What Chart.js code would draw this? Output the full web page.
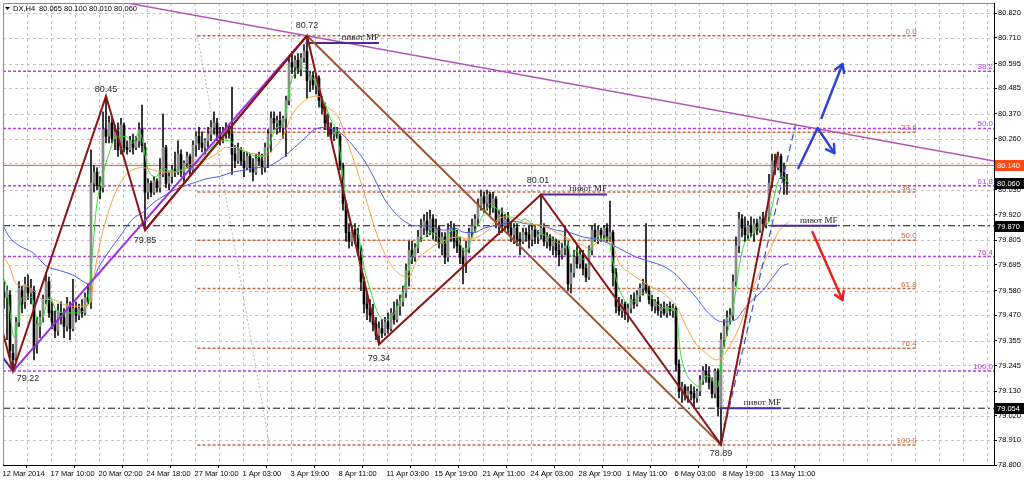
<!DOCTYPE html>
<html>
<head>
<meta charset="utf-8">
<title>DX,H4</title>
<script src="https://cdn.jsdelivr.net/npm/chart.js@4.4.1/dist/chart.umd.min.js"></script>
<style>
  html, body { margin: 0; padding: 0; background: #ffffff; overflow: hidden; }
  canvas { display: block; }
</style>
</head>
<body>
<canvas id="chart" width="1024" height="482"></canvas>
<script>
// ---------- H4 candles, US Dollar Index (DX) ----------
const opens = [
  79.57,79.55,79.56,79.30,79.28,79.44,79.58,79.53,79.60,79.57,
  79.58,79.34,79.42,79.46,79.54,79.62,79.49,79.44,79.40,79.48,
  79.46,79.42,79.51,79.41,79.50,79.47,79.50,79.48,79.55,79.53,
  80.06,80.11,80.05,80.04,80.30,80.27,80.33,80.26,80.29,80.21,
  80.32,80.22,80.21,80.25,80.22,80.25,80.30,80.22,80.02,80.06,
  80.02,80.07,80.04,80.10,80.22,80.06,80.09,80.12,80.11,80.19,
  80.11,80.15,80.18,80.12,80.23,80.27,80.24,80.22,80.25,80.28,
  80.31,80.33,80.28,80.26,80.29,80.31,80.28,80.19,80.16,80.21,
  80.16,80.13,80.18,80.13,80.11,80.17,80.16,80.13,80.22,80.28,
  80.35,80.33,80.34,80.31,80.35,80.43,80.60,80.58,80.61,80.57,
  80.62,80.65,80.52,80.54,80.50,80.53,80.43,80.40,80.33,80.30,
  80.28,80.29,80.27,80.14,79.97,79.84,79.80,79.85,79.83,79.77,
  79.62,79.52,79.50,79.47,79.43,79.38,79.41,79.39,79.44,79.41,
  79.48,79.45,79.51,79.53,79.57,79.67,79.76,79.73,79.77,79.82,
  79.86,79.89,79.85,79.90,79.84,79.86,79.79,79.82,79.73,79.85,
  79.86,79.80,79.78,79.73,79.70,79.77,79.84,79.87,79.90,79.96,
  80.00,79.97,80.01,79.95,79.99,79.89,79.92,79.87,79.90,79.86,
  79.83,79.86,79.81,79.80,79.84,79.83,79.81,79.85,79.82,79.83,
  79.86,79.80,79.82,79.78,79.80,79.76,79.74,79.77,79.78,79.61,
  79.66,79.73,79.70,79.74,79.68,79.64,79.76,79.85,79.82,79.85,
  79.83,79.86,79.82,79.84,79.66,79.51,79.49,79.52,79.48,79.50,
  79.54,79.52,79.56,79.59,79.61,79.58,79.54,79.51,79.53,79.49,
  79.50,79.48,79.51,79.49,79.50,79.25,79.13,79.15,79.11,79.13,
  79.12,79.10,79.13,79.18,79.22,79.20,79.17,79.12,79.22,79.06,
  79.36,79.42,79.46,79.47,79.62,79.78,79.90,79.86,79.83,79.87,
  79.84,79.88,79.85,79.90,79.88,79.91,80.06,80.16,80.13,80.18,
  80.11,80.065
];
const highs = [
  79.62,79.60,79.58,79.34,79.46,79.62,79.60,79.64,79.65,79.63,
  79.60,79.46,79.49,79.56,79.66,79.64,79.53,79.49,79.52,79.53,
  79.50,79.55,79.53,79.63,79.53,79.52,79.54,79.57,79.61,80.21,
  80.14,80.13,80.09,80.38,80.45,80.36,80.35,80.32,80.33,80.35,
  80.33,80.25,80.27,80.28,80.27,80.33,80.41,80.24,80.08,80.07,
  80.09,80.08,80.17,80.37,80.23,80.11,80.14,80.20,80.25,80.21,
  80.16,80.20,80.19,80.25,80.29,80.31,80.29,80.26,80.31,80.34,
  80.38,80.35,80.31,80.31,80.33,80.32,80.49,80.23,80.24,80.22,
  80.20,80.20,80.19,80.17,80.19,80.20,80.19,80.24,80.30,80.38,
  80.38,80.36,80.38,80.36,80.45,80.63,80.65,80.63,80.64,80.64,
  80.68,80.72,80.56,80.56,80.55,80.54,80.45,80.42,80.37,80.33,
  80.31,80.31,80.28,80.15,79.98,79.88,79.87,79.88,79.86,79.78,
  79.64,79.57,79.54,79.52,79.46,79.44,79.45,79.46,79.48,79.50,
  79.53,79.54,79.56,79.60,79.70,79.80,79.80,79.79,79.85,79.90,
  79.92,79.93,79.94,79.92,79.90,79.87,79.84,79.84,79.88,79.89,
  79.88,79.85,79.82,79.77,79.80,79.86,79.90,79.92,79.99,80.03,
  80.02,80.03,80.02,80.02,80.00,79.94,79.95,79.92,79.93,79.89,
  79.88,79.88,79.84,79.86,79.86,79.87,79.88,79.87,79.85,80.01,
  79.88,79.84,79.83,79.82,79.81,79.80,79.79,79.87,79.80,79.70,
  79.76,79.78,79.76,79.76,79.70,79.78,79.87,79.88,79.87,79.86,
  79.87,79.88,79.98,79.85,79.68,79.55,79.54,79.53,79.52,79.56,
  79.57,79.58,79.61,79.63,79.88,79.60,79.56,79.54,79.55,79.52,
  79.53,79.52,79.53,79.52,79.51,79.27,79.17,79.16,79.15,79.16,
  79.15,79.14,79.20,79.24,79.25,79.24,79.19,79.23,79.23,79.39,
  79.45,79.49,79.50,79.65,79.82,79.93,79.92,79.91,79.89,79.91,
  79.90,79.90,79.91,79.93,79.92,80.10,80.19,80.19,80.20,80.19,
  80.15,80.10
];
const lows = [
  79.50,79.36,79.28,79.22,79.26,79.42,79.48,79.50,79.54,79.52,
  79.27,79.30,79.37,79.44,79.52,79.46,79.41,79.37,79.38,79.43,
  79.37,79.40,79.36,79.40,79.44,79.45,79.46,79.47,79.52,79.50,
  80.02,80.03,79.99,80.02,80.24,80.24,80.24,80.21,80.18,80.19,
  80.20,80.19,80.20,80.19,80.21,80.22,80.20,79.85,79.99,80.00,
  80.01,80.02,80.02,80.09,80.04,80.03,80.06,80.09,80.10,80.09,
  80.06,80.13,80.10,80.11,80.18,80.21,80.20,80.19,80.22,80.25,
  80.28,80.25,80.23,80.24,80.26,80.26,80.10,80.13,80.15,80.14,
  80.09,80.12,80.11,80.07,80.10,80.14,80.10,80.11,80.13,80.20,
  80.30,80.28,80.29,80.26,80.18,80.41,80.55,80.53,80.55,80.54,
  80.60,80.44,80.47,80.48,80.46,80.40,80.37,80.30,80.27,80.26,
  80.25,80.26,80.12,79.94,79.80,79.77,79.78,79.79,79.74,79.58,
  79.48,79.45,79.44,79.40,79.36,79.34,79.37,79.38,79.39,79.40,
  79.43,79.44,79.47,79.51,79.55,79.60,79.70,79.71,79.75,79.80,
  79.83,79.82,79.83,79.81,79.80,79.77,79.74,79.70,79.71,79.80,
  79.77,79.75,79.70,79.61,79.66,79.75,79.82,79.84,79.87,79.94,
  79.93,79.94,79.92,79.93,79.86,79.83,79.84,79.85,79.83,79.80,
  79.79,79.78,79.74,79.79,79.80,79.77,79.78,79.79,79.79,79.81,
  79.78,79.77,79.76,79.74,79.73,79.69,79.72,79.74,79.58,79.57,
  79.64,79.68,79.68,79.65,79.62,79.63,79.74,79.80,79.79,79.80,
  79.81,79.80,79.80,79.60,79.48,79.47,79.46,79.45,79.44,79.48,
  79.50,79.51,79.53,79.56,79.57,79.52,79.49,79.48,79.47,79.46,
  79.47,79.46,79.47,79.46,79.22,79.10,79.08,79.09,79.08,79.09,
  79.06,79.08,79.11,79.16,79.17,79.14,79.10,79.10,79.02,78.89,
  79.33,79.38,79.43,79.45,79.60,79.75,79.82,79.80,79.81,79.82,
  79.80,79.83,79.84,79.85,79.86,79.89,80.04,80.10,80.12,80.08,
  80.01,80.01
];
const closes = [
  79.55,79.58,79.31,79.27,79.44,79.59,79.52,79.61,79.57,79.59,
  79.32,79.43,79.46,79.54,79.62,79.48,79.44,79.40,79.49,79.46,
  79.42,79.52,79.41,79.50,79.47,79.50,79.48,79.55,79.53,80.06,
  80.11,80.05,80.03,80.30,80.27,80.33,80.26,80.29,80.21,80.32,
  80.22,80.21,80.25,80.22,80.25,80.30,80.23,80.02,80.06,80.02,
  80.07,80.04,80.10,80.22,80.06,80.09,80.12,80.11,80.19,80.11,
  80.15,80.18,80.12,80.23,80.27,80.24,80.22,80.25,80.28,80.31,
  80.33,80.28,80.26,80.29,80.31,80.28,80.19,80.16,80.21,80.16,
  80.13,80.18,80.13,80.11,80.17,80.16,80.13,80.22,80.28,80.35,
  80.33,80.34,80.31,80.35,80.43,80.60,80.58,80.61,80.57,80.62,
  80.65,80.52,80.54,80.50,80.53,80.43,80.40,80.33,80.30,80.28,
  80.29,80.27,80.14,79.97,79.84,79.80,79.85,79.83,79.77,79.62,
  79.52,79.50,79.47,79.43,79.38,79.41,79.39,79.44,79.41,79.48,
  79.45,79.51,79.53,79.57,79.67,79.76,79.73,79.77,79.82,79.86,
  79.89,79.85,79.90,79.84,79.86,79.79,79.82,79.73,79.85,79.86,
  79.80,79.78,79.73,79.70,79.77,79.84,79.87,79.90,79.96,80.00,
  79.97,80.01,79.95,79.99,79.89,79.92,79.87,79.90,79.86,79.83,
  79.86,79.81,79.80,79.84,79.83,79.81,79.85,79.82,79.83,79.86,
  79.80,79.82,79.78,79.80,79.76,79.74,79.77,79.78,79.61,79.66,
  79.73,79.70,79.74,79.68,79.64,79.76,79.85,79.82,79.85,79.83,
  79.86,79.82,79.84,79.66,79.51,79.49,79.52,79.48,79.50,79.54,
  79.52,79.56,79.59,79.61,79.58,79.54,79.51,79.53,79.49,79.50,
  79.48,79.51,79.49,79.50,79.25,79.13,79.15,79.11,79.13,79.12,
  79.10,79.13,79.18,79.22,79.20,79.17,79.12,79.22,79.06,79.36,
  79.42,79.46,79.47,79.62,79.78,79.90,79.86,79.83,79.87,79.84,
  79.88,79.85,79.90,79.88,79.91,80.06,80.16,80.13,80.18,80.11,
  80.07,80.06
];

// time axis: one label every 16 bars
const timeLabels = ["12 Mar 2014","17 Mar 10:00","20 Mar 02:00","24 Mar 18:00","27 Mar 10:00",
  "1 Apr 03:00","3 Apr 19:00","8 Apr 11:00","11 Apr 03:00","15 Apr 19:00","21 Apr 11:00",
  "24 Apr 03:00","28 Apr 19:00","1 May 11:00","6 May 03:00","8 May 19:00","13 May 11:00"];
const priceTicks = [80.820,80.710,80.595,80.485,80.370,80.260,80.150,80.030,79.920,79.805,
  79.695,79.580,79.470,79.355,79.245,79.130,79.020,78.910,78.800];

// moving averages as [bar, price]
const maFast = [[-0.3,79.64],[0.8,79.60],[3.5,79.37],[6.2,79.55],[9.2,79.55],[11.8,79.42],[15.2,79.55],
  [17.5,79.49],[20.8,79.48],[24.2,79.48],[27.8,79.52],[29.5,79.75],[30.8,79.95],[32.8,80.09],[35.2,80.20],
  [37.5,80.27],[40.8,80.27],[42.8,80.24],[45.2,80.29],[46.2,80.25],[47.8,80.13],[50.8,80.09],[52.8,80.13],
  [56.2,80.11],[59.2,80.12],[61.8,80.13],[65.2,80.16],[68.5,80.21],[71.8,80.25],[75.2,80.25],[77.5,80.22],
  [80.8,80.20],[84.2,80.18],[87.5,80.19],[90.2,80.30],[93.5,80.34],[95.2,80.49],[96.8,80.55],[99.1,80.58],
  [100.7,80.57],[102.4,80.54],[104.6,80.49],[106.8,80.42],[109.1,80.34],[110.7,80.30],[112.4,80.16],
  [114.1,79.96],[115.7,79.88],[117.9,79.84],[120.2,79.67],[122.4,79.57],[124.6,79.48],[126.8,79.45],
  [129.1,79.46],[131.3,79.51],[133.5,79.60],[135.7,79.72],[137.9,79.79],[140.2,79.82],[142.4,79.84],
  [144.6,79.82],[146.8,79.79],[148.5,79.84],[150.2,79.85],[152.4,79.78],[154.1,79.75],[155.7,79.81],
  [157.9,79.87],[160.2,79.93],[162.4,79.97],[164.6,79.94],[166.8,79.93],[169.1,79.90],[171.3,79.88],
  [173.5,79.90],[175.7,79.88],[178.5,79.84],[181.8,79.82],[185.2,79.79],[187.4,79.81],[189.1,79.73],
  [190.7,79.76],[192.9,79.72],[195.2,79.75],[196.8,79.81],[199.1,79.81],[201.3,79.82],[202.4,79.75],
  [204.1,79.63],[206.3,79.55],[208.5,79.52],[210.7,79.54],[213.5,79.57],[215.7,79.55],[218.5,79.51],
  [221.8,79.50],[224.1,79.49],[225.2,79.33],[227.4,79.21],[229.6,79.17],[231.8,79.15],[234.1,79.20],
  [236.3,79.18],[237.9,79.15],[239.4,79.30],[241.3,79.40],[243.5,79.54],[245.2,79.70],[246.8,79.79],
  [249.1,79.82],[251.8,79.87],[254.6,79.88],[256.1,79.96],[257.8,80.06],[259.4,80.09],[261.5,80.06]];
const maMid = [[-0.3,79.73],[1.8,79.69],[4.1,79.61],[7.4,79.60],[10.7,79.57],[12.9,79.54],[16.3,79.54],
  [19.6,79.52],[22.9,79.51],[26.3,79.51],[28.5,79.52],[30.2,79.66],[31.8,79.78],[34.1,79.90],[36.3,79.99],
  [39.6,80.08],[42.9,80.12],[46.3,80.13],[49.6,80.12],[52.9,80.11],[56.3,80.11],[59.6,80.12],[62.9,80.15],
  [66.3,80.16],[70.7,80.19],[74.1,80.22],[77.4,80.22],[80.7,80.20],[84.1,80.19],[86.8,80.18],[90.2,80.22],
  [93.5,80.28],[95.7,80.36],[97.9,80.40],[101.3,80.44],[104.6,80.45],[107.9,80.40],[111.3,80.36],
  [114.6,80.24],[117.9,80.11],[121.3,79.96],[124.6,79.82],[127.9,79.72],[131.3,79.66],[134.6,79.64],
  [137.9,79.72],[141.3,79.76],[144.6,79.79],[147.9,79.81],[151.3,79.82],[154.6,79.81],[157.9,79.82],
  [161.3,79.85],[164.6,79.90],[167.9,79.91],[171.3,79.90],[174.6,79.88],[179.6,79.87],[184.1,79.84],
  [188.5,79.81],[191.8,79.79],[195.2,79.77],[199.1,79.81],[201.8,79.81],[205.2,79.70],[208.5,79.66],
  [211.8,79.63],[215.2,79.60],[219.6,79.57],[224.1,79.51],[227.4,79.42],[230.7,79.34],[234.1,79.30],
  [237.4,79.27],[239.1,79.28],[241.8,79.33],[245.2,79.42],[248.5,79.55],[251.8,79.66],[255.2,79.76],
  [258.5,79.85],[261.8,79.89]];
const maSlow = [[-0.3,79.87],[1.8,79.82],[5.2,79.78],[9.6,79.75],[14.1,79.69],[18.5,79.67],[22.9,79.65],
  [28.5,79.61],[31.8,79.69],[35.2,79.76],[38.5,79.82],[42.9,79.90],[46.3,79.93],[49.6,79.97],[54.1,80.01],
  [58.5,80.04],[62.9,80.06],[67.4,80.08],[71.8,80.09],[76.3,80.11],[80.7,80.12],[84.1,80.13],[86.8,80.13],
  [90.2,80.15],[93.5,80.18],[96.8,80.22],[100.2,80.26],[103.5,80.30],[106.8,80.31],[110.2,80.30],
  [113.5,80.27],[116.8,80.22],[120.2,80.16],[123.5,80.08],[126.8,79.99],[130.2,79.93],[133.5,79.89],
  [136.8,79.87],[140.2,79.87],[143.5,79.86],[146.8,79.85],[150.2,79.86],[153.5,79.84],[156.8,79.84],
  [160.2,79.86],[163.5,79.87],[166.8,79.88],[170.2,79.89],[173.5,79.88],[179.6,79.87],[184.1,79.85],
  [188.5,79.84],[192.9,79.82],[197.4,79.81],[201.8,79.79],[206.3,79.76],[210.7,79.73],[215.2,79.71],
  [219.6,79.69],[224.1,79.65],[227.4,79.60],[230.7,79.55],[234.1,79.49],[237.4,79.45],[239.6,79.44],
  [243.9,79.45],[246.3,79.49],[249.6,79.54],[252.9,79.58],[256.3,79.64],[259.4,79.69],[261.5,79.70]];

// zigzag swing points
const pivotBars   = [3, 34, 47, 101, 125, 179, 239];
const pivotPrices = [79.22, 80.45, 79.85, 80.72, 79.34, 80.01, 78.89];
const zigzagEntry = [-0.33, 79.39];
const zigzagLast  = [258, 80.20];

// horizontal levels
const resistance = 80.140;
const mfLevels = [79.870, 79.054];
const bidPrice = 80.060;

// Fibonacci grids
const fibSwingRatios = [0, 23.6, 38.2, 50, 61.8, 76.4, 100];
const fibSwing = { high: 80.72, low: 78.89, fromBar: 64.5, toBar: 304.2 };
const fibWideRatios = [38.2, 50, 61.8, 76.4, 100];
const fibWide = { high: 81.39, low: 79.22 };

// "пивот MF" markers: [fromBar, toBar, price]
const mfMarks = [[100.5, 125, 80.687], [179, 201, 80.01], [255.5, 277.8, 79.870], [239, 259, 79.054]];

// drawn trend lines and scenario arrows, [bar, price]
const trendEntry   = [[-0.33, 79.28], [3, 79.22]];
const swingLeg     = [[47, 79.85], [101, 80.72]];
const channelLine  = [[101, 80.72], [239, 78.89]];
const upperTrend   = [[39.5, 80.87], [330, 80.16]];
const fibDiagonal  = [[64.5, 80.72], [88.5, 78.89]];
const rallyLine    = [[239.2, 78.91], [263.8, 80.32]];
const arrowRetest  = [[264.8, 80.128], [271.2, 80.307], [276.8, 80.195]];
const arrowBreak   = [[272.5, 80.352], [279.5, 80.593]];
const arrowDrop    = [[269.5, 79.842], [279.5, 79.538]];

// ---------- layout constants ----------
const X_MIN = -1 / 3, X_MAX = X_MIN + 991 / 3;
const Y_MIN = 78.8, Y_MAX = 78.8 + 462 / 223.6;

const COL = {
  zigzag: '#8b1414', channel: '#a0522d', trend: '#9a2be8', upper: '#b355b8',
  fibWide: '#b93cf0', fibSwing: '#c8643c', mf: '#4a2a9a', resist: '#ff4a14',
  fast: '#2ee02e', mid: '#ffa040', slow: '#4b5af0', grid: '#c4c4c4',
  arrowBlue: '#2e44d8', arrowRed: '#e8231f'
};
const FONT = '"Liberation Sans", Arial, sans-serif';

const pts = arr => arr.map(p => ({ x: p[0], y: p[1] }));
const hline = (v, a, b) => [{ x: a, y: v }, { x: b, y: v }];
function lineDs(data, color, width, dash, order, smooth) {
  return {
    type: 'line', data, borderColor: color, borderWidth: width, borderDash: dash || [],
    pointRadius: 0, pointHoverRadius: 0, fill: false, order,
    tension: smooth ? 0.4 : 0, cubicInterpolationMode: smooth ? 'monotone' : 'default'
  };
}

const datasets = [];
// zigzag and hand-drawn lines (on top)
const zig = [zigzagEntry].concat(pivotBars.map((b, i) => [b, pivotPrices[i]])).concat([zigzagLast]);
datasets.push(lineDs(pts(zig), COL.zigzag, 2, [], 1));
datasets.push(lineDs(pts(swingLeg), COL.zigzag, 2, [], 1));
datasets.push(lineDs(pts(channelLine), COL.channel, 2, [], 1));
datasets.push(lineDs(pts([[pivotBars[0], pivotPrices[0]], [pivotBars[3], pivotPrices[3]]]), COL.trend, 2, [], 1));
datasets.push(lineDs(pts(trendEntry), '#4b1a8a', 2, [], 1));
datasets.push(lineDs(pts(upperTrend), COL.upper, 1.5, [], 2));
datasets.push(lineDs(pts(rallyLine), '#3f4fd0', 1.2, [7, 4], 1));
mfMarks.forEach(m => datasets.push(lineDs(hline(m[2], m[0], m[1]), COL.mf, 2, [], 1)));
// moving averages
datasets.push(lineDs(pts(maFast), COL.fast, 1, [], 3, true));
datasets.push(lineDs(pts(maMid), COL.mid, 1, [], 3, true));
datasets.push(lineDs(pts(maSlow), COL.slow, 1, [], 3, true));
// candles
datasets.push({
  type: 'bar', order: 4, grouped: false, barThickness: 2, minBarLength: 1,
  data: opens.map((o, i) => ({ x: i, y: [o, closes[i]] })),
  backgroundColor: c => closes[c.dataIndex] >= opens[c.dataIndex] ? '#8a8a8a' : '#000000',
  borderWidth: 0
});
datasets.push({
  type: 'bar', order: 5, grouped: false, barThickness: 1,
  data: highs.map((h, i) => ({ x: i, y: [lows[i], h] })),
  backgroundColor: '#111111', borderWidth: 0
});
// horizontal levels (behind)
datasets.push(lineDs(hline(resistance, X_MIN, X_MAX), COL.resist, 1, [], 6));
mfLevels.forEach(v => datasets.push(lineDs(hline(v, X_MIN, X_MAX), '#111111', 1, [7, 3, 2, 3], 6)));
const fibWidePrice = r => fibWide.high - r / 100 * (fibWide.high - fibWide.low);
const fibSwingPrice = r => fibSwing.high - r / 100 * (fibSwing.high - fibSwing.low);
fibWideRatios.forEach(r => datasets.push(lineDs(hline(fibWidePrice(r), X_MIN, X_MAX), COL.fibWide, 1.5, [3, 2], 7)));
fibSwingRatios.forEach(r => datasets.push(lineDs(hline(fibSwingPrice(r), fibSwing.fromBar, fibSwing.toBar), COL.fibSwing, 1.5, [3, 2], 7)));
datasets.push(lineDs(pts(fibDiagonal), '#b8b8b8', 1, [2, 2], 7));

// ---------- drawing helpers ----------
function drawArrow(ctx, p, color, width, head) {
  ctx.save();
  ctx.strokeStyle = color; ctx.lineWidth = width; ctx.lineCap = 'round'; ctx.lineJoin = 'round';
  ctx.beginPath();
  p.forEach((q, i) => i ? ctx.lineTo(q[0], q[1]) : ctx.moveTo(q[0], q[1]));
  ctx.stroke();
  const [x1, y1] = p[p.length - 2], [x2, y2] = p[p.length - 1];
  const a = Math.atan2(y2 - y1, x2 - x1);
  ctx.beginPath();
  ctx.moveTo(x2 - head * Math.cos(a - 0.55), y2 - head * Math.sin(a - 0.55));
  ctx.lineTo(x2, y2);
  ctx.lineTo(x2 - head * Math.cos(a + 0.55), y2 - head * Math.sin(a + 0.55));
  ctx.stroke();
  ctx.restore();
}

const gridPlugin = {
  id: 'mtGrid',
  beforeDatasetsDraw(chart) {
    const { ctx, chartArea: ca, scales: { x, y } } = chart;
    ctx.save();
    ctx.strokeStyle = COL.grid; ctx.lineWidth = 1; ctx.setLineDash([3, 3]);
    for (let b = -0.5; b <= X_MAX; b += 8) {
      const px = Math.round(x.getPixelForValue(b)) + 0.5;
      if (px <= ca.left + 1) continue;
      ctx.beginPath(); ctx.moveTo(px, ca.top); ctx.lineTo(px, ca.bottom); ctx.stroke();
    }
    priceTicks.forEach(v => {
      const py = Math.round(y.getPixelForValue(v)) + 0.5;
      if (py >= ca.bottom - 1) return;
      ctx.beginPath(); ctx.moveTo(ca.left, py); ctx.lineTo(ca.right, py); ctx.stroke();
    });
    ctx.restore();
  }
};

const overlayPlugin = {
  id: 'mtOverlay',
  afterDatasetsDraw(chart) {
    const { ctx, chartArea: ca, scales: { x, y } } = chart;
    const P = q => [x.getPixelForValue(q[0]), y.getPixelForValue(q[1])];
    ctx.save();
    ctx.beginPath(); ctx.rect(ca.left, ca.top, ca.right - ca.left, ca.bottom - ca.top); ctx.clip();

    // swing labels
    const offs = [[15, 7], [0, -7], [0, 10], [0, -10], [0, 14], [-3, -14], [0, 9]];
    ctx.font = '9px ' + FONT; ctx.fillStyle = '#2a2a2a'; ctx.textAlign = 'center'; ctx.textBaseline = 'middle';
    pivotBars.forEach((b, i) => {
      const [px, py] = P([b, pivotPrices[i]]);
      ctx.fillText(pivotPrices[i].toFixed(2), px + offs[i][0], py + offs[i][1]);
    });

    // "пивот MF" captions
    ctx.font = '9px "Liberation Serif", "Times New Roman", serif'; ctx.fillStyle = '#262626';
    ctx.textAlign = 'right'; ctx.textBaseline = 'alphabetic';
    mfMarks.forEach(m => {
      const [px, py] = P([m[1], m[2]]);
      ctx.fillText('пивот MF', px, py - 3);
    });

    // Fibonacci captions
    ctx.font = '8px ' + FONT;
    ctx.fillStyle = COL.fibSwing;
    fibSwingRatios.forEach(r => {
      const [px, py] = P([fibSwing.toBar, fibSwingPrice(r)]);
      ctx.fillText(r.toFixed(1), px, py - 2);
    });
    ctx.fillStyle = COL.fibWide;
    fibWideRatios.forEach(r => {
      const py = y.getPixelForValue(fibWidePrice(r));
      ctx.fillText(r.toFixed(1), ca.right - 1, py - 2);
    });

    // scenario arrows
    drawArrow(ctx, arrowRetest.map(P), COL.arrowBlue, 2.5, 9);
    drawArrow(ctx, arrowBreak.map(P), COL.arrowBlue, 2.5, 9);
    drawArrow(ctx, arrowDrop.map(P), COL.arrowRed, 2.5, 9);

    // symbol header
    ctx.fillStyle = '#000';
    ctx.beginPath(); ctx.moveTo(5, 7); ctx.lineTo(10, 7); ctx.lineTo(7.5, 10); ctx.closePath(); ctx.fill();
    ctx.font = '7.5px ' + FONT; ctx.textAlign = 'left'; ctx.textBaseline = 'middle';
    ctx.fillText('DX,H4', 13, 9);
    ctx.fillText('80.065 80.100 80.010 80.060', 39, 9);
    ctx.restore();

    // frame
    ctx.save();
    ctx.strokeStyle = '#8a8a8a'; ctx.lineWidth = 1;
    ctx.beginPath();
    ctx.moveTo(ca.left + 0.5, ca.bottom); ctx.lineTo(ca.left + 0.5, ca.top + 0.5); ctx.lineTo(ca.right, ca.top + 0.5);
    ctx.stroke();
    ctx.restore();
  },
  afterDraw(chart) {
    const { ctx, chartArea: ca, scales: { y } } = chart;
    const tag = (v, bg) => {
      const py = Math.round(y.getPixelForValue(v));
      ctx.fillStyle = bg; ctx.fillRect(ca.right + 1, py - 5, 29, 11);
      ctx.fillStyle = '#ffffff'; ctx.font = '7.5px ' + FONT;
      ctx.textAlign = 'left'; ctx.textBaseline = 'middle';
      ctx.fillText(v.toFixed(3), ca.right + 3, py + 0.5);
    };
    ctx.save();
    tag(resistance, COL.resist);
    tag(bidPrice, '#000000');
    mfLevels.forEach(v => tag(v, '#000000'));
    ctx.restore();
  }
};

new Chart(document.getElementById('chart'), {
  type: 'bar',
  data: { datasets },
  options: {
    responsive: false, animation: false, devicePixelRatio: 1,
    layout: { padding: { left: 3, top: 3, right: 0, bottom: 0 } },
    plugins: { legend: { display: false }, tooltip: { enabled: false } },
    events: [],
    scales: {
      x: {
        type: 'linear', position: 'bottom', min: X_MIN, max: X_MAX, offset: false,
        afterBuildTicks: s => { s.ticks = timeLabels.map((_, i) => ({ value: i * 16 - 0.5 })); },
        afterFit: s => { s.height = 17; s.paddingLeft = 0; s.paddingRight = 0; },
        ticks: {
          autoSkip: false, maxRotation: 0, minRotation: 0, align: 'start', padding: 1,
          color: '#000', font: { family: FONT, size: 7.5 },
          callback: (v, i) => timeLabels[i]
        },
        grid: { drawOnChartArea: false, drawTicks: true, tickLength: 3, tickColor: '#000' },
        border: { display: true, color: '#000', width: 1 }
      },
      y: {
        type: 'linear', position: 'right', min: Y_MIN, max: Y_MAX,
        afterBuildTicks: s => { s.ticks = priceTicks.map(v => ({ value: v })); },
        afterFit: s => { s.width = 30; s.paddingTop = 0; s.paddingBottom = 0; },
        ticks: {
          autoSkip: false, padding: 1, color: '#000', font: { family: FONT, size: 7.5 },
          callback: v => Number(v).toFixed(3)
        },
        grid: { drawOnChartArea: false, drawTicks: true, tickLength: 3, tickColor: '#000' },
        border: { display: true, color: '#000', width: 1 }
      }
    }
  },
  plugins: [gridPlugin, overlayPlugin]
});
</script>
</body>
</html>
